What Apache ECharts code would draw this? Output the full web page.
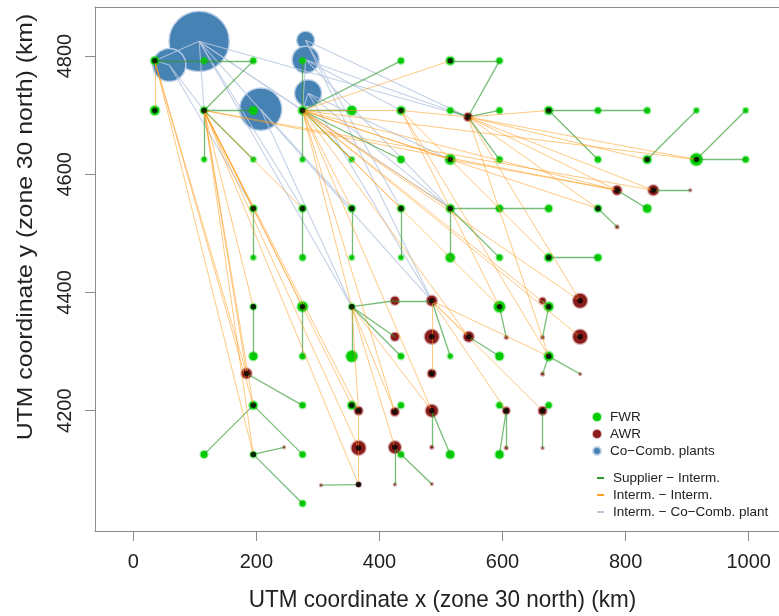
<!DOCTYPE html>
<html><head><meta charset="utf-8">
<script src="https://cdn.jsdelivr.net/npm/echarts@6/dist/echarts.min.js"></script>
<style>html,body{margin:0;padding:0;background:#fff}#c{width:779px;height:616px}</style>
</head><body><div id="c"></div>
<script>
// ---- tick labels
const xTicks = [0, 200, 400, 600, 800, 1000];
const yTicks = [4200, 4400, 4600, 4800];

// ---- FWR suppliers: [id, x (km), y (km), amount]
const fwr = [
 ['f00',35,4792,25],['f10',115,4792,16],['f20',195,4792,16],['f30',275,4792,16],['f50',435,4792,16],['f60',515,4792,25],['f70',595,4792,16],
 ['f01',35,4708,30],['f11',115,4708,20],['f21',195,4708,25],['f31',275,4708,25],['f41',355,4708,30],['f51',435,4708,25],['f61',515,4708,16],['f71',595,4708,16],['f81',675,4708,25],['f91',755,4708,16],['f101',835,4708,16],['f111',915,4708,12],['f121',995,4708,12],
 ['f12',115,4625,12],['f22',195,4625,12],['f32',275,4625,12],['f42',355,4625,12],['f52',435,4625,20],['f62',515,4625,36],['f72',595,4625,16],['f92',755,4625,16],['f102',835,4625,25],['f112',915,4625,49],['f122',995,4625,16],
 ['f23',195,4542,20],['f33',275,4542,20],['f43',355,4542,20],['f53',435,4542,20],['f63',515,4542,25],['f73',595,4542,20],['f83',675,4542,20],['f93',755,4542,20],['f103',835,4542,25],
 ['f24',195,4459,12],['f34',275,4459,16],['f44',355,4459,12],['f54',435,4459,12],['f64',515,4459,30],['f74',595,4459,16],['f84',675,4459,25],['f94',755,4459,20],
 ['f25',195,4376,16],['f35',275,4376,36],['f45',355,4376,16],['f75',595,4376,42],['f85',675,4376,30],
 ['f26',195,4292,25],['f36',275,4292,16],['f46',355,4292,42],['f56',435,4292,16],['f66',515,4292,12],['f76',595,4292,25],['f86',675,4292,30],
 ['f27',195,4209,25],['f37',275,4209,16],['f47',355,4209,25],['f57',435,4209,16],['f77',595,4209,16],['f87',675,4209,16],
 ['f18',115,4126,20],['f28',195,4126,16],['f38',275,4126,16],['f58',435,4126,16],['f68',515,4126,25],['f78',595,4126,25],
 ['f39',275,4043,16]
];

// ---- AWR suppliers: [id, x, y, amount]
const awr = [
 ['a1',544,4697,25],['a2',786,4573,30],['a3',845,4573,36],['a4',905,4573,4],['a5',786,4511,6],
 ['a6',425,4386,25],['a7',485,4386,36],['a8',665,4386,16],['a9',726,4386,64],
 ['a10',425,4325,25],['a11',485,4325,64],['a12',545,4325,36],['a13',606,4324,6],['a14',665,4324,6],['a15',726,4325,64],
 ['a16',184,4263,36],['a17',485,4263,25],['a18',665,4262,6],['a19',726,4262,4],
 ['a20',366,4200,25],['a21',425,4198,25],['a22',485,4200,49],['a23',606,4200,20],['a24',665,4200,25],
 ['a25',245,4138,4],['a26',366,4137,64],['a27',425,4138,49],['a28',485,4138,6],['a29',606,4137,6],['a30',665,4137,4],
 ['a31',305,4074,4],['a32',366,4075,9],['a33',425,4075,4],['a34',485,4076,4]
];

// ---- Co-combustion plants: [id, x, y, capacity]
const plants = [
 ['p1',107,4825,940],['p2',58.5,4785,290],['p3',207,4710,470],['p4',280,4827,90],['p5',280,4794,196],['p6',284,4737,196]
];

// ---- intermediate storage sites (black centre)
const hubs = ['f00','f01','f11','f31','f51','f60','f81','f62','f102','f112','f23','f33','f43','f53','f63','f93','f84','f25','f35','f45','f75','f85','f86','f27','f47','f28',
 'a1','a2','a3','a7','a9','a11','a12','a15','a16','a17','a20','a21','a22','a23','a24','a26','a27','a32'];

// ---- flows
const supplierEdges = [
 ['f00','f10'],['f10','f20'],['f20','f11'],['f11','f21'],['f11','f12'],['f11','f22'],
 ['f30','f31'],['f31','f32'],['f31','f41'],['f31','f50'],['f31','f52'],['f31','f42'],
 ['f60','f70'],['f70','a1'],['a1','f71'],['a1','f72'],['f61','a1'],
 ['f81','f91'],['f91','f101'],['f81','f92'],['f111','f102'],['f121','f112'],['f112','f122'],
 ['a3','a4'],['a2','f103'],['f93','a5'],
 ['f63','f73'],['f73','f83'],['f63','f64'],['f63','f74'],['f84','f94'],
 ['f23','f24'],['f33','f34'],['f43','f44'],['f53','f54'],['f25','f26'],['f35','f36'],
 ['f45','a6'],['a6','a7'],['f45','a10'],['f45','f56'],['f45','f46'],
 ['a7','f66'],['a12','f76'],['f75','a13'],['f85','a14'],['a8','f85'],['f86','a18'],['f86','a19'],
 ['a16','f37'],['f27','f18'],['f27','f38'],['f28','a25'],['f28','f39'],
 ['a31','a32'],['f47','a20'],['a21','f57'],['a27','f58'],['a27','a33'],['f58','a34'],
 ['a22','a28'],['a22','f68'],['a23','f77'],['a23','f78'],['a23','a29'],['a24','f87'],['a24','a30']
];
const intermEdges = [
 ['f00','f01'],['f00','a16'],['f00','f27'],['f00','f28'],
 ['f11','f23'],['f11','f33'],['f11','f25'],['f11','f35'],['f11','a16'],['f11','f27'],['f11','f28'],['f11','a20'],['f11','a26'],['f11','a32'],['f11','f47'],['f11','a2'],['f11','a3'],
 ['f31','f51'],['f31','f60'],['f31','f62'],['f31','f43'],['f31','f53'],['f31','f63'],['f31','f93'],['f31','f75'],['f31','f85'],['f31','a9'],['f31','a15'],['f31','a2'],['f31','f45'],['f31','a12'],['f31','f112'],['f31','a21'],['f31','a22'],
 ['f51','a1'],['f51','f84'],['f51','f86'],['f51','f75'],
 ['a1','f81'],['a1','f102'],['a1','f112'],['a1','a2'],['a1','a3'],['a1','f93'],['a1','f86'],['a1','a9'],
 ['f62','a2'],
 ['f45','a20'],['a20','a26'],['a26','a32'],['f45','a21'],['f45','a27'],['f45','a22'],
 ['a7','a11'],['a11','a17'],['a7','a12'],['a7','f86'],['a7','a23'],['a7','a24']
];
const plantEdges = [
 ['p1','f00'],['p2','f00'],['p1','f11'],['p2','f11'],['p2','f23'],['p1','f33'],['p1','f45'],['p3','f45'],['p3','f43'],
 ['p1','a7'],['p4','a7'],['p6','a7'],['p1','a1'],['p4','a1'],['p5','a1'],['p5','f51'],
 ['p1','f63'],['p5','f63'],['p6','f63'],['p6','f62'],['p4','f53'],['p6','f31'],['p5','f31'],['p1','f31']
];

// ---- build chart
const FONT = '"Liberation Sans", Arial, Helvetica, sans-serif';
const BOX = '#8c8c8c';
const X_MIN = -62.24, X_MAX = 1049.2, Y_MIN = 3996.4, Y_MAX = 4883.1;
const pos = {};
[...fwr, ...awr, ...plants].forEach(n => { pos[n[0]] = [n[1], n[2]]; });
const pts = (arr, shrink) => arr.map(n => ({ value: [n[1], n[2]], symbolSize: Math.max(2, 2 * Math.sqrt(n[3]) - shrink) }));
const edges = list => list.map(e => ({ coords: [pos[e[0]], pos[e[1]]] }));
const plain = v => String(v);

const chart = echarts.init(document.getElementById('c'), null, { renderer: 'canvas' });
chart.setOption({
  animation: false,
  backgroundColor: '#ffffff',
  grid: { left: 95, top: 7, width: 684, height: 524, show: false },
  xAxis: [{
    type: 'value', min: X_MIN, max: X_MAX, position: 'bottom',
    axisLine: { show: true, onZero: false, lineStyle: { color: BOX, width: 1 } }, splitLine: { show: false },
    axisTick: { show: true, inside: false, length: 10, lineStyle: { color: BOX }, customValues: xTicks },
    axisLabel: { customValues: xTicks, formatter: plain, fontSize: 20, margin: 21, color: '#222', fontFamily: FONT }
  }, {
    type: 'value', min: X_MIN, max: X_MAX, position: 'top',
    axisLine: { show: true, onZero: false, lineStyle: { color: BOX, width: 1 } }, splitLine: { show: false },
    axisTick: { show: false }, axisLabel: { show: false }
  }],
  yAxis: {
    type: 'value', min: Y_MIN, max: Y_MAX,
    axisLine: { show: true, onZero: false, lineStyle: { color: BOX, width: 1 } }, splitLine: { show: false },
    axisTick: { show: true, inside: false, length: 10, lineStyle: { color: BOX }, customValues: yTicks },
    axisLabel: { customValues: yTicks, formatter: plain, fontSize: 20, margin: 20, rotate: 90, color: '#222', fontFamily: FONT }
  },
  legend: [
    { orient: 'vertical', left: 592, top: 410, padding: 0, itemWidth: 16, itemHeight: 8, itemGap: 3, icon: 'circle', selectedMode: false,
      textStyle: { fontSize: 13.5, color: '#222', fontFamily: FONT },
      data: ['FWR', 'AWR', 'Co\u2212Comb. plants'] },
    { orient: 'vertical', left: 597, top: 471, padding: 0, itemWidth: 11, itemHeight: 2, itemGap: 3, selectedMode: false,
      icon: 'path://M0,0L7,0L7,2L0,2Z M11,0L11,2',
      textStyle: { fontSize: 13.5, color: '#222', fontFamily: FONT },
      data: [
        { name: 'Supplier \u2212 Interm.', itemStyle: { color: '#2e9a2e', borderWidth: 0 } },
        { name: 'Interm. \u2212 Interm.', itemStyle: { color: '#ffa024', borderWidth: 0 } },
        { name: 'Interm. \u2212 Co\u2212Comb. plant', itemStyle: { color: '#b8c8e0', borderWidth: 0 } }
      ] }
  ],
  graphic: [
    { type: 'text', x: 442.5, y: 600, scaleY: 1.1, silent: true,
      style: { text: 'UTM coordinate x (zone 30 north) (km)', fontSize: 22.5, fontFamily: FONT, fill: '#222', align: 'center', verticalAlign: 'middle' } },
    { type: 'text', x: 26, y: 227, rotation: Math.PI / 2, scaleX: 1.1, silent: true,
      style: { text: 'UTM coordinate y (zone 30 north) (km)', fontSize: 22.5, fontFamily: FONT, fill: '#222', align: 'center', verticalAlign: 'middle' } }
  ],
  series: [
    { name: 'Co\u2212Comb. plants', type: 'scatter', z: 1, silent: true, symbol: 'circle',
      itemStyle: { color: '#4682b4', borderColor: 'rgba(190,210,232,0.9)', borderWidth: 1.5, opacity: 1 },
      data: pts(plants, 1) },
    { name: 'Interm. \u2212 Co\u2212Comb. plant', type: 'lines', coordinateSystem: 'cartesian2d', z: 2, silent: true,
      lineStyle: { color: '#b8c8e0', width: 1.1, opacity: 0.85 }, data: edges(plantEdges) },
    { name: 'FWR', type: 'scatter', z: 3, silent: true, symbol: 'circle',
      itemStyle: { color: '#00cd00', borderColor: 'rgba(0,205,0,0.35)', borderWidth: 2.5, opacity: 1 },
      data: pts(fwr, 2) },
    { name: 'AWR', type: 'scatter', z: 3, silent: true, symbol: 'circle',
      itemStyle: { color: '#8b1c1c', borderColor: 'rgba(139,28,28,0.35)', borderWidth: 2.5, opacity: 1 },
      data: pts(awr, 2) },
    { name: 'Supplier \u2212 Interm.', type: 'lines', coordinateSystem: 'cartesian2d', z: 4, silent: true,
      lineStyle: { color: '#2e9a2e', width: 1.3, opacity: 0.65 }, data: edges(supplierEdges) },
    { name: 'Interm. \u2212 Interm.', type: 'lines', coordinateSystem: 'cartesian2d', z: 5, silent: true,
      lineStyle: { color: '#ff9a1a', width: 1, opacity: 0.55 }, data: edges(intermEdges) },
    { name: 'hubs', type: 'scatter', z: 6, silent: true, symbol: 'circle', symbolSize: 5.5,
      itemStyle: { color: '#000000' }, data: hubs.map(h => ({ value: pos[h] })) }
  ]
});
</script></body></html>
